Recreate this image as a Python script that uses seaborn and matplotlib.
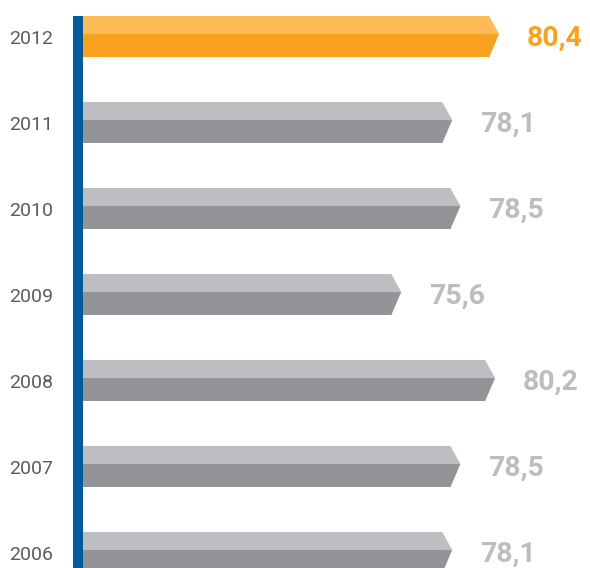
import numpy as np
import pandas as pd
import matplotlib
matplotlib.use("Agg")
import matplotlib.pyplot as plt
from matplotlib.patches import Polygon
import seaborn as sns

years  = ["2012", "2011", "2010", "2009", "2008", "2007", "2006"]
values = [80.4, 78.1, 78.5, 75.6, 80.2, 78.5, 78.1]
highlight_year = "2012"

COLORS = {
    "orange_light": "#fdbb57",
    "orange_dark" : "#f8a21f",
    "gray_light"  : "#bdbec1",
    "gray_dark"   : "#939498",
    "label_gray"  : "#bcbdc0",
    "year_text"   : "#5c5c5c",
    "axis_blue"   : "#005a9c",
}

sns.set_theme(style="white")
plt.rcParams["font.family"] = ["Roboto", "DejaVu Sans"]

df = pd.DataFrame({"year": years, "value": values})

X0      = 60.0      # bars start here
TIP     = 0.49      # length of the pointed end (data units)
BAR_H   = 0.48
LIGHT_H = 0.21
PX_PER_UNIT = 20.4

fig = plt.figure(figsize=(5.9, 5.68), dpi=100)
ax = fig.add_axes([78 / 590, 0, 512 / 590, 1 - 16 / 568])

palette = {y: (COLORS["orange_dark"] if y == highlight_year else COLORS["gray_dark"]) for y in years}

# body of each bar (dark bottom face), seaborn draws it from the data
sns.barplot(data=df.assign(body=df["value"] - TIP), x="body", y="year", hue="year",
            palette=palette, orient="h", width=BAR_H, dodge=False, legend=False,
            saturation=1, linewidth=0, ax=ax)

for i, (yr, v) in enumerate(zip(years, values)):
    hl = yr == highlight_year
    light = COLORS["orange_light"] if hl else COLORS["gray_light"]
    dark  = COLORS["orange_dark"] if hl else COLORS["gray_dark"]
    top = i - BAR_H / 2
    mid = top + LIGHT_H
    bot = i + BAR_H / 2
    # light top face with its slanted end
    ax.add_patch(Polygon([(X0 - 1, top), (v - TIP, top), (v, mid), (X0 - 1, mid)],
                         closed=True, facecolor=light, edgecolor="none", zorder=1.2))
    # dark tip
    ax.add_patch(Polygon([(v - TIP - 0.05, mid), (v, mid), (v - TIP, bot), (v - TIP - 0.05, bot)],
                         closed=True, facecolor=dark, edgecolor="none", zorder=1.2))
    ax.text(v + 28 / PX_PER_UNIT, i + 0.02, f"{v:.1f}".replace(".", ","),
            ha="left", va="center", fontsize=20.5, fontweight="bold",
            color=COLORS["orange_dark"] if hl else COLORS["label_gray"])

ax.set_xlim(X0 - 5 / PX_PER_UNIT, X0 + 507 / PX_PER_UNIT)
ax.set_ylim((568 - 36.6) / 86, -BAR_H / 2)

ax.set_xlabel("")
ax.set_ylabel("")
ax.set_xticks([])
ax.tick_params(axis="y", length=0, pad=18, labelsize=14, labelcolor=COLORS["year_text"])

for side in ["top", "right", "bottom"]:
    ax.spines[side].set_visible(False)
ax.spines["left"].set_color(COLORS["axis_blue"])
ax.spines["left"].set_linewidth(7.2)
ax.spines["left"].set_capstyle("butt")
ax.spines["left"].set_zorder(3)
ax.set_facecolor("white")
ax.grid(False)

fig.savefig("out.png", dpi=100, facecolor="white")
plt.close(fig)
